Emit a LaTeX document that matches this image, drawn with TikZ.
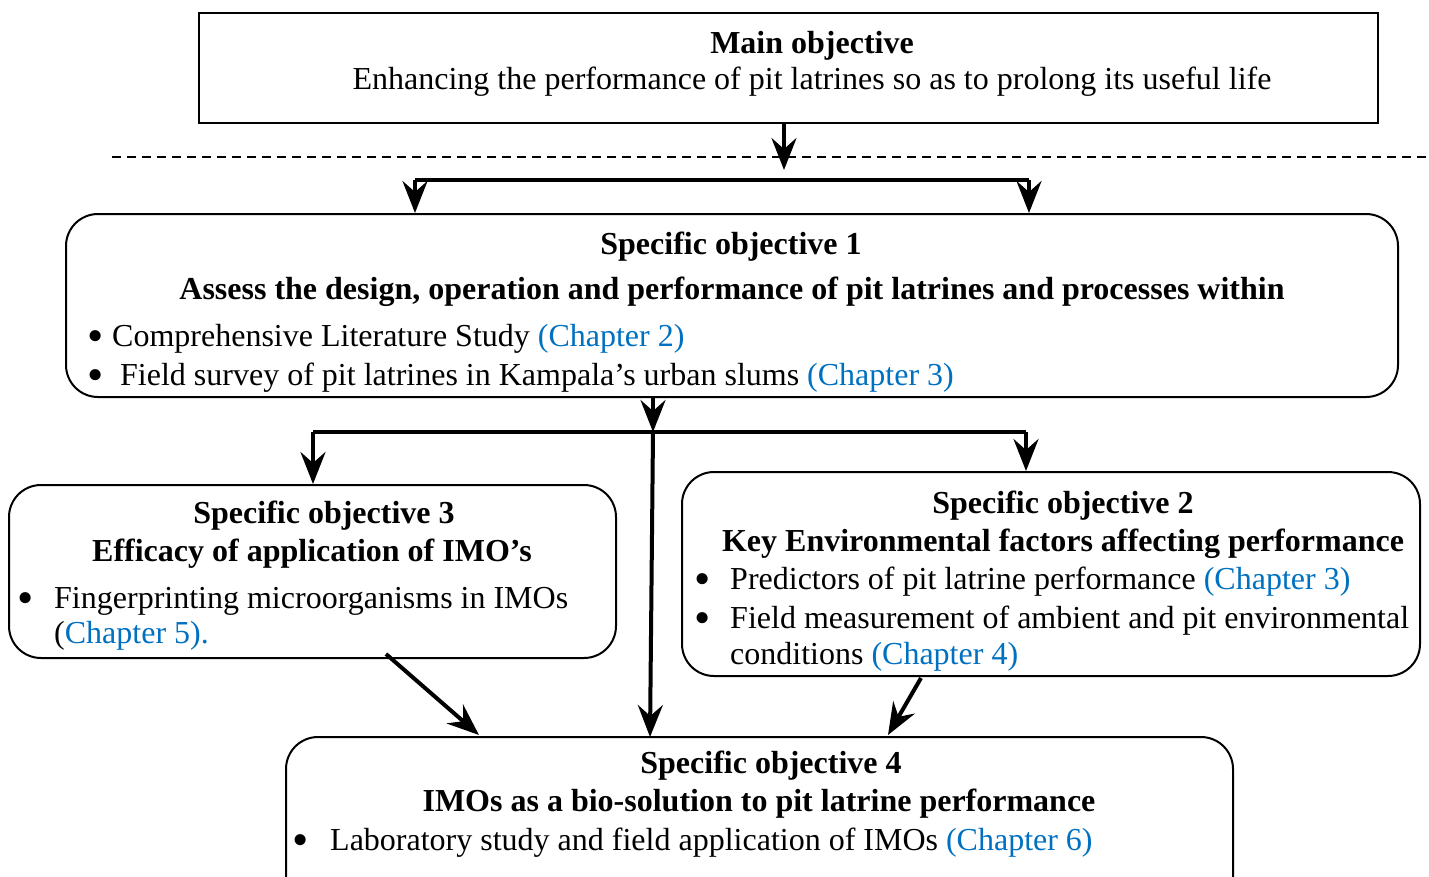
\documentclass[tikz,border=0pt]{standalone}
\usepackage{fontspec}
\setmainfont{Liberation Serif}
\usetikzlibrary{arrows.meta}
\definecolor{chap}{HTML}{0070C0}
\newcommand\chp[1]{\textcolor{chap}{#1}}
\newcommand\bigbul{\raisebox{-0.16em}[0.45em][0pt]{\scalebox{1.45}{\textbullet}}}
% bullet hung to the left of the line start, #1 = gap between bullet box and text
\newcommand\hb[1]{\makebox[0pt][r]{\makebox[16pt]{\bigbul}\hspace{#1}}}
\tikzset{
  box/.style={draw, line width=2pt, rounded corners=32pt, inner sep=0pt},
  sqbox/.style={draw, line width=2pt, inner sep=0pt},
  conn/.style={line width=4pt, -{Stealth[length=32pt,width=25pt,inset=11pt]}},
  link/.style={line width=4pt},
  txt/.style={inner sep=0pt, anchor=base, font=\fontsize{32}{38}\selectfont},
  bt/.style={txt, font=\fontsize{32}{38}\selectfont\bfseries},
  lt/.style={txt, anchor=base west},
}
\begin{document}
\begin{tikzpicture}[x=1pt,y=-1pt]
\useasboundingbox (0,0) rectangle (1429,876);

% boxes
\node[sqbox, minimum width=1179pt, minimum height=110pt] (mainbox) at (788.5,68) {};
\node[box, minimum width=1332pt, minimum height=183pt] (so1) at (732,305.5) {};
\node[box, minimum width=607pt, minimum height=173pt] (so3) at (312.5,571.5) {};
\node[box, minimum width=738pt, minimum height=204pt] (so2) at (1051,574) {};
\node[box, minimum width=947pt, minimum height=180pt] (so4) at (759.5,827) {};

\draw[dashed, line width=1.5pt, dash pattern=on 9pt off 6pt] (112,157) -- (1429,157);

% main texts
\node[bt] (t0a) at (812,53) {Main objective};
\node[txt] (t0b) at (812,89) {Enhancing the performance of pit latrines so as to prolong its useful life};

% SO1
\node[bt] (t1a) at (731,254) {Specific objective 1};
\node[bt] (t1b) at (732,299) {Assess the design, operation and performance of pit latrines and processes within};
\node[lt] (t1c) at (112,346) {\hb{9pt}Comprehensive Literature Study \chp{(Chapter 2)}};
\node[lt] (t1d) at (120,385) {\hb{17pt}Field survey of pit latrines in Kampala’s urban slums \chp{(Chapter 3)}};

% SO3
\node[bt] (t3a) at (324,523) {Specific objective 3};
\node[bt] (t3b) at (312,561) {Efficacy of application of IMO’s};
\node[lt] (t3c) at (54,608) {\hb{21pt}Fingerprinting microorganisms in IMOs};
\node[lt] (t3d) at (54,643) {(\chp{Chapter 5).}};

% SO2
\node[bt] (t2a) at (1063,513) {Specific objective 2};
\node[bt] (t2b) at (1063,551) {Key Environmental factors affecting performance};
\node[lt] (t2c) at (730,589) {\hb{20pt}Predictors of pit latrine performance \chp{(Chapter 3)}};
\node[lt] (t2d) at (730,628) {\hb{20pt}Field measurement of ambient and pit environmental};
\node[lt] (t2e) at (730,664) {conditions \chp{(Chapter 4)}};

% SO4
\node[bt] (t4a) at (771,773) {Specific objective 4};
\node[bt] (t4b) at (759,811) {IMOs as a bio-solution to pit latrine performance};
\node[lt] (t4c) at (330,850) {\hb{22pt}Laboratory study and field application of IMOs \chp{(Chapter 6)}};

% connector coordinates
\coordinate (c0) at (784,170);
\coordinate (bl) at (415,180);
\coordinate (br) at (1029,180);
\coordinate (j) at (653,432);
\coordinate (jl) at (313,432);
\coordinate (jr) at (1026,432);
\coordinate (je) at (650,737);
\coordinate (d3s) at (386,654);
\coordinate (d3e) at (479,735);
\coordinate (d2s) at (921,678);
\coordinate (d2e) at (888,735);

% connectors
\draw[conn] (mainbox.south -| c0) -- (c0);
\draw[link] (bl) -- (br);
\draw[conn] (bl) -- (bl |- so1.north);
\draw[conn] (br) -- (br |- so1.north);
\draw[conn] (so1.south -| j) -- (j);
\draw[link] (jl) -- (jr);
\draw[conn] (jl) -- (jl |- so3.north);
\draw[conn] (jr) -- (jr |- so2.north);
\draw[conn] (j) -- (je);
\draw[conn] (d3s) -- (d3e);
\draw[conn] (d2s) -- (d2e);
\end{tikzpicture}
\end{document}
